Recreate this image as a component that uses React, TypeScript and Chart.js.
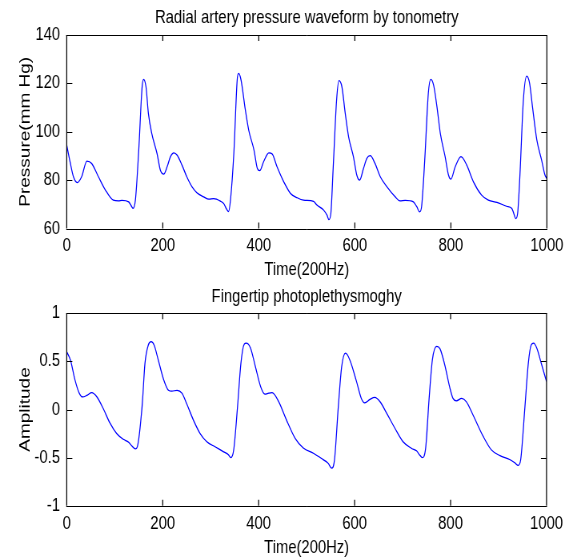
import { useEffect, useRef } from "react";
import { Chart, registerables } from "chart.js";

Chart.register(...registerables);

const timeTicks = [0, 200, 400, 600, 800, 1000];
const pressureTicks = [60, 80, 100, 120, 140];
const ppgTicks = [-1, -0.5, 0, 0.5, 1];

const pressureTime = [
  0, 7, 14, 22, 31, 42, 52, 66, 80, 97, 108, 115, 129, 134, 138, 143, 150, 157, 160, 165,
  170, 177, 188, 195, 202, 209, 216, 223, 230, 240, 250, 261, 271, 285, 296, 306, 320, 327, 333, 337,
  341, 348, 355, 358, 363, 372, 379, 390, 397, 402, 410, 421, 428, 438, 452, 466, 480, 493, 514, 521,
  535, 542, 546, 550, 555, 562, 567, 573, 580, 587, 597, 604, 610, 618, 625, 632, 642, 653, 667, 684,
  694, 705, 722, 729, 735, 739, 746, 753, 758, 764, 771, 778, 788, 795, 800, 809, 821, 833, 847, 864,
  878, 896, 916, 927, 931, 935, 939, 944, 951, 958, 964, 970, 979, 989, 996, 1000,
];
const pressureValues = [
  94.5, 87.5, 81.4, 79.0, 81.4, 87.9, 86.9, 81.4, 76.1, 71.7, 71.4, 71.6, 71.0, 69.5, 68.3, 71.7, 92.4, 118.6, 121.7, 118.6,
  107.6, 99.3, 91.0, 84.1, 82.5, 85.5, 89.7, 91.3, 90.3, 86.2, 81.4, 77.2, 74.8, 73.1, 72.1, 72.3, 71.3, 70.3, 68.0, 67.0,
  71.7, 91.0, 121.4, 124.1, 121.4, 109.0, 100.7, 92.4, 84.8, 83.9, 87.6, 91.3, 90.8, 85.5, 79.3, 74.5, 72.7, 71.7, 71.2, 69.7,
  67.6, 65.5, 63.7, 66.2, 85.5, 113.1, 121.1, 118.6, 107.6, 97.9, 89.7, 82.1, 80.0, 84.8, 89.0, 90.1, 86.9, 81.4, 77.2, 73.1,
  71.4, 71.6, 71.0, 69.0, 66.9, 69.0, 89.7, 115.9, 121.7, 119.3, 110.3, 99.3, 89.7, 82.1, 80.4, 85.5, 89.7, 86.2, 79.3, 73.8,
  71.7, 70.8, 69.2, 68.3, 66.2, 64.1, 66.2, 82.8, 113.1, 123.0, 120.0, 110.3, 96.6, 88.3, 82.1, 80.7,
];

const ppgTime = [
  0, 8, 17, 26, 33, 43, 52, 63, 77, 90, 104, 118, 129, 136, 143, 147, 157, 163, 170, 176,
  182, 191, 202, 212, 219, 230, 240, 250, 264, 278, 292, 310, 327, 337, 342, 348, 356, 363, 370, 374,
  383, 393, 404, 413, 421, 428, 442, 458, 476, 493, 514, 531, 545, 552, 558, 566, 573, 581, 590, 604,
  614, 621, 632, 642, 653, 667, 684, 701, 719, 729, 736, 741, 748, 755, 762, 771, 778, 788, 798, 805,
  812, 823, 833, 847, 868, 885, 903, 923, 934, 941, 946, 955, 962, 968, 973, 980, 989, 1000,
];
const ppgValues = [
  0.6, 0.51, 0.31, 0.17, 0.13, 0.15, 0.175, 0.13, 0.0, -0.14, -0.25, -0.31, -0.34, -0.38, -0.41, -0.39, 0.03, 0.48, 0.67, 0.705,
  0.67, 0.51, 0.31, 0.2, 0.19, 0.2, 0.17, 0.06, -0.11, -0.25, -0.335, -0.39, -0.44, -0.47, -0.5, -0.42, 0.03, 0.48, 0.68, 0.69,
  0.64, 0.45, 0.24, 0.16, 0.17, 0.175, 0.08, -0.11, -0.3, -0.4, -0.455, -0.51, -0.56, -0.61, -0.525, 0.03, 0.445, 0.585, 0.515, 0.29,
  0.115, 0.07, 0.105, 0.125, 0.08, -0.04, -0.195, -0.335, -0.405, -0.43, -0.475, -0.5, -0.405, 0.1, 0.515, 0.655, 0.63, 0.46, 0.235, 0.115,
  0.09, 0.115, 0.08, -0.06, -0.28, -0.42, -0.48, -0.52, -0.555, -0.58, -0.525, 0.03, 0.48, 0.67, 0.69, 0.635, 0.48, 0.29,
];

const FONT = "'Liberation Sans', Arial, Helvetica, sans-serif";
const PAGE_W = 569;
const H = 280;
// The reference text is horizontally condensed: draw on a wider bitmap, show it at 569px.
const K = 0.8;
const BW = Math.round(PAGE_W / K);

type Panel = {
  title: string;
  xLabel: string;
  yLabel: string;
  times: number[];
  values: number[];
  yTicks: number[];
  chartTop: number;
  chartBottom: number;
  titleBaseline: number;
  xLabelBaseline: number;
  xTickPad: number;
};

const panels: Panel[] = [
  {
    title: "Radial artery pressure waveform by tonometry",
    xLabel: "Time(200Hz)",
    yLabel: "Pressure(mm Hg)",
    times: pressureTime,
    values: pressureValues,
    yTicks: pressureTicks,
    chartTop: 35,
    chartBottom: 228.5,
    titleBaseline: 23.3,
    xLabelBaseline: 275,
    xTickPad: 6,
  },
  {
    title: "Fingertip photoplethysmoghy",
    xLabel: "Time(200Hz)",
    yLabel: "Amplitude",
    times: ppgTime,
    values: ppgValues,
    yTicks: ppgTicks,
    chartTop: 33.3,
    chartBottom: 225.7,
    titleBaseline: 21.5,
    xLabelBaseline: 273.3,
    xTickPad: 7.5,
  },
];

function makePlugin(p: Panel) {
  return {
    id: "matlabFrame",
    afterDraw(chart: any) {
      const { ctx, chartArea } = chart;
      const { left, right, top, bottom } = chartArea;
      const xs = chart.scales.x;
      const ys = chart.scales.y;
      ctx.save();
      ctx.strokeStyle = "#000";
      // inward ticks on x (vertical marks)
      ctx.lineWidth = 1.25;
      ctx.beginPath();
      timeTicks.forEach((v) => {
        const px = xs.getPixelForValue(v);
        ctx.moveTo(px, bottom);
        ctx.lineTo(px, bottom - 6);
        ctx.moveTo(px, top);
        ctx.lineTo(px, top + 6);
      });
      // box verticals
      ctx.moveTo(left, top);
      ctx.lineTo(left, bottom);
      ctx.moveTo(right, top);
      ctx.lineTo(right, bottom);
      ctx.stroke();
      // inward ticks on y (horizontal marks) and box horizontals
      ctx.lineWidth = 1;
      ctx.beginPath();
      p.yTicks.forEach((v) => {
        const py = Math.round(ys.getPixelForValue(v)) + 0.5;
        ctx.moveTo(left, py);
        ctx.lineTo(left + 7, py);
        ctx.moveTo(right, py);
        ctx.lineTo(right - 7, py);
      });
      const t = Math.round(top) + 0.5;
      const b = Math.round(bottom) + 0.5;
      ctx.moveTo(left - 0.6, t);
      ctx.lineTo(right + 0.6, t);
      ctx.moveTo(left - 0.6, b);
      ctx.lineTo(right + 0.6, b);
      ctx.stroke();

      ctx.fillStyle = "#000";
      ctx.font = `18.5px ${FONT}`;
      ctx.textAlign = "center";
      ctx.textBaseline = "alphabetic";
      const cx = (left + right) / 2;
      ctx.fillText(p.title, cx, p.titleBaseline);
      ctx.fillText(p.xLabel, cx, p.xLabelBaseline);

      ctx.save();
      ctx.font = `19px ${FONT}`;
      ctx.translate(29.3 / K, (top + bottom) / 2);
      ctx.rotate(-Math.PI / 2);
      ctx.fillText(p.yLabel, 0, 0);
      ctx.restore();
      ctx.restore();
    },
  };
}

function PanelChart({ p, offsetTop }: { p: Panel; offsetTop: number }) {
  const ref = useRef<HTMLCanvasElement | null>(null);
  useEffect(() => {
    if (!ref.current) return;
    const tickFont = { family: FONT, size: 18.5 };
    const chart = new Chart(ref.current, {
      type: "line",
      data: {
        datasets: [
          {
            data: p.times.map((t, i) => ({ x: t, y: p.values[i] })),
            borderColor: "#0000ff",
            borderWidth: 1.25,
            pointRadius: 0,
            fill: false,
            cubicInterpolationMode: "monotone",
          },
        ],
      },
      options: {
        animation: false,
        responsive: false,
        maintainAspectRatio: false,
        devicePixelRatio: 1,
        events: [],
        layout: { padding: { top: p.chartTop, right: BW - 546.7 / K, left: 0, bottom: 0 } },
        plugins: {
          legend: { display: false },
          title: { display: false },
          tooltip: { enabled: false },
        },
        scales: {
          x: {
            type: "linear",
            min: 0,
            max: 1000,
            afterBuildTicks: (s: any) => {
              s.ticks = timeTicks.map((v) => ({ value: v }));
            },
            afterFit: (s: any) => {
              s.height = H - p.chartBottom;
            },
            grid: { display: false, drawTicks: false },
            border: { display: false },
            ticks: {
              font: tickFont,
              color: "#000",
              padding: p.xTickPad,
              maxRotation: 0,
              autoSkip: false,
              callback: (v: any) => String(v),
            },
          },
          y: {
            type: "linear",
            min: p.yTicks[0],
            max: p.yTicks[p.yTicks.length - 1],
            afterBuildTicks: (s: any) => {
              s.ticks = p.yTicks.map((v) => ({ value: v }));
            },
            afterFit: (s: any) => {
              s.width = 66.7 / K;
            },
            grid: { display: false, drawTicks: false },
            border: { display: false },
            ticks: {
              font: tickFont,
              color: "#000",
              padding: 6.7 / K,
              autoSkip: false,
              callback: (v: any) => String(v),
            },
          },
        },
      },
      plugins: [makePlugin(p)],
    } as any);
    return () => chart.destroy();
  }, [p]);
  return (
    <canvas
      ref={ref}
      width={BW}
      height={H}
      style={{ position: "absolute", left: 0, top: offsetTop, width: PAGE_W, height: H, display: "block" }}
    />
  );
}

export default function App() {
  return (
    <div style={{ position: "absolute", left: 0, top: 0, width: PAGE_W, height: 560, background: "#fff" }}>
      <PanelChart p={panels[0]} offsetTop={0} />
      <PanelChart p={panels[1]} offsetTop={280} />
    </div>
  );
}
